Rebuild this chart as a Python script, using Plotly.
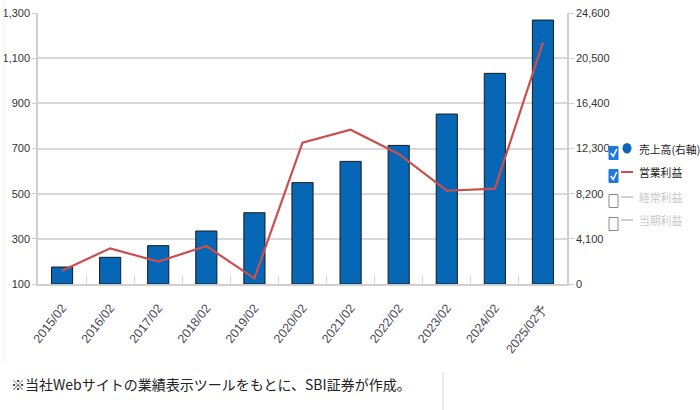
import plotly.graph_objects as go

# ---- data ----
categories = ["2015/02", "2016/02", "2017/02", "2018/02", "2019/02", "2020/02",
              "2021/02", "2022/02", "2023/02", "2024/02", "2025/02予"]
sales = [1540, 2420, 3480, 4810, 6470, 9200, 11130, 12580, 15430, 19120, 23960]   # 売上高 (右軸)
op_profit = [159, 258, 199, 268, 125, 726, 783, 676, 513, 522, 1170]               # 営業利益 (左軸)
right_ticks = [0, 4100, 8200, 12300, 16400, 20500, 24600]
left_ticks = [100, 300, 500, 700, 900, 1100, 1300]
legend_labels = ["売上高(右軸)", "営業利益", "経常利益", "当期利益"]
legend_checked = [True, True, False, False]
footer = "※当社Webサイトの業績表示ツールをもとに、SBI証券が作成。"

W, H = 700, 410
L, R, T, B = 38, 567, 13, 284

def X(px):
    return (px - L) / (R - L)

def Y(py):
    return (B - py) / (B - T)

BAR = "#0567b5"
LINE = "#c9504e"
NUMFONT = "Liberation Sans Narrow, Liberation Sans, Arial, sans-serif"
TICKFONT = dict(family=NUMFONT, size=11, color="#333")

fig = go.Figure()
fig.add_trace(go.Bar(x=categories, y=sales, yaxis="y", name=legend_labels[0],
                     marker=dict(color=BAR, line=dict(color="#1b1b1b", width=1))))
fig.add_trace(go.Scatter(x=categories, y=op_profit, yaxis="y2", name=legend_labels[1],
                         mode="lines", line=dict(color=LINE, width=2.2)))

shapes = []
annotations = []

# legend (custom, with checkboxes)
row_y = [149, 172, 197, 220]
for i, (lab, chk) in enumerate(zip(legend_labels, legend_checked)):
    cy = row_y[i]
    bc = cy + 4
    x0, x1 = 609, 618
    y0, y1 = bc - 6.5, bc + 6.5
    if chk:
        shapes.append(dict(type="rect", xref="paper", yref="paper",
                           x0=X(x0), x1=X(x1), y0=Y(y1), y1=Y(y0),
                           fillcolor="#1f78e0", line=dict(color="#1f78e0", width=1)))
        p = "M {} {} L {} {} L {} {}".format(X(610.8), Y(bc), X(613.2), Y(bc + 3.5), X(616.8), Y(bc - 4))
        shapes.append(dict(type="path", xref="paper", yref="paper", path=p,
                           line=dict(color="white", width=1.6)))
    else:
        shapes.append(dict(type="rect", xref="paper", yref="paper",
                           x0=X(x0), x1=X(x1), y0=Y(y1), y1=Y(y0),
                           fillcolor="white", line=dict(color="#8a8a8a", width=1)))
    if i == 0:
        shapes.append(dict(type="circle", xref="paper", yref="paper",
                           x0=X(622.5), x1=X(631.5), y0=Y(cy + 4.5), y1=Y(cy - 6),
                           fillcolor=BAR, line=dict(color=BAR, width=0)))
    else:
        col = LINE if chk else "#d0d0d0"
        shapes.append(dict(type="line", xref="paper", yref="paper",
                           x0=X(621), x1=X(633), y0=Y(cy), y1=Y(cy),
                           line=dict(color=col, width=2)))
    annotations.append(dict(text=lab, xref="paper", yref="paper", x=X(636.5), y=Y(cy),
                            xanchor="left", yanchor="middle", showarrow=False,
                            font=dict(family="Noto Sans CJK JP", size=10.8,
                                      color="#222" if chk else "#c8c8c8")))

# footer
annotations.append(dict(text=footer, xref="paper", yref="paper", x=X(9), y=Y(384),
                        xanchor="left", yanchor="middle", showarrow=False,
                        font=dict(family="Noto Sans CJK JP", size=14, color="#222")))
# faint frame lines
shapes.append(dict(type="line", xref="paper", yref="paper", x0=X(4), x1=X(4), y0=Y(0), y1=Y(362),
                   line=dict(color="#f0f0f0", width=1)))
shapes.append(dict(type="line", xref="paper", yref="paper", x0=X(443), x1=X(443), y0=Y(372), y1=Y(410),
                   line=dict(color="#d6d6d6", width=1)))

fig.update_layout(
    template="none",
    width=W, height=H,
    margin=dict(l=L, r=W - R, t=T, b=H - B, pad=0, autoexpand=False),
    paper_bgcolor="white", plot_bgcolor="white",
    showlegend=False,
    bargap=0.56,
    xaxis=dict(type="category", showgrid=False, showline=True, linecolor="#cfcfcf", linewidth=1.5,
               ticks="inside", tickson="boundaries", ticklen=9, tickcolor="#dcdcdc", tickwidth=1,
               tickangle=-52, ticklabelstandoff=10, automargin=False,
               tickfont=dict(family=NUMFONT, size=12.5, color="#4a4a58"),
               range=[-0.5, len(categories) - 0.5]),
    yaxis=dict(side="right", range=[0, 24600], tickvals=right_ticks, tickformat=",d",
               showgrid=True, gridcolor="#d9d9d9", gridwidth=1.5, automargin=False,
               showline=True, linecolor="#cfcfcf", linewidth=1.5,
               ticks="outside", ticklen=5, tickcolor="#cfcfcf", tickfont=TICKFONT,
               zeroline=False),
    yaxis2=dict(side="left", overlaying="y", range=[100, 1300], tickvals=left_ticks, tickformat=",d",
                showgrid=False, showline=True, linecolor="#cfcfcf", linewidth=1.5, automargin=False,
                ticks="outside", ticklen=4, tickcolor="#cfcfcf", tickfont=TICKFONT,
                zeroline=False),
    shapes=shapes, annotations=annotations,
)

fig.write_html("out.html")
